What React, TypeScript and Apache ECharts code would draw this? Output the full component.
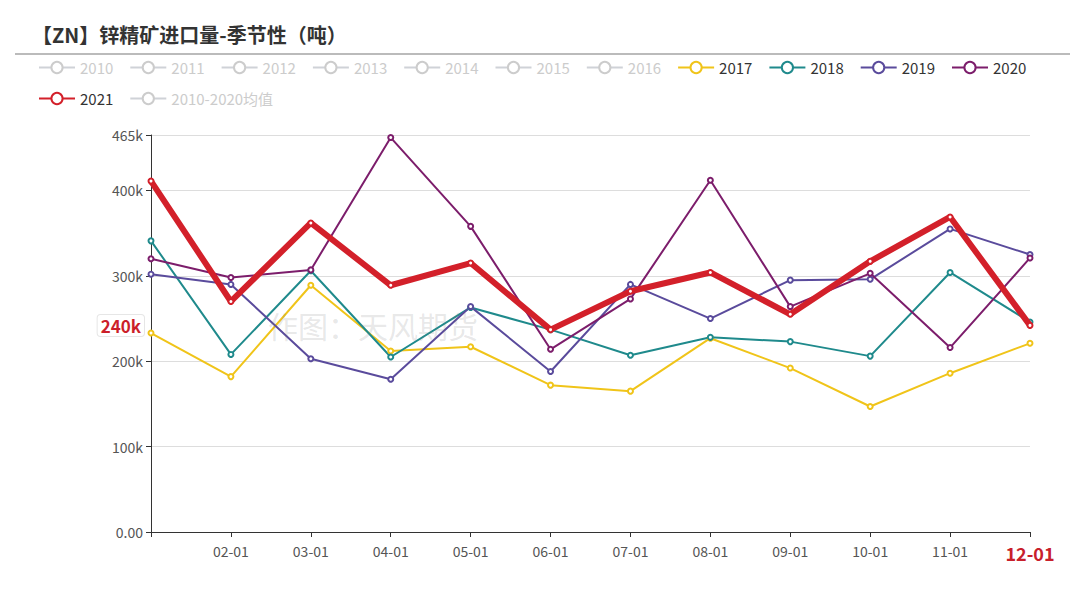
import React, { useEffect, useRef } from "react";
import * as echarts from "echarts";

const TITLE = "【ZN】锌精矿进口量-季节性（吨）";
const WATERMARK = "作图：天风期货";
const MONTHS = ["01-01", "02-01", "03-01", "04-01", "05-01", "06-01", "07-01", "08-01", "09-01", "10-01", "11-01", "12-01"];
const HIDDEN_SERIES = ["2010", "2011", "2012", "2013", "2014", "2015", "2016"];
const MEAN_NAME = "2010-2020均值";

const Y2017 = [233000, 182000, 289000, 212000, 217000, 172000, 165000, 227000, 192000, 147000, 186000, 221000];
const Y2018 = [341000, 208000, 306000, 205000, 263000, 237000, 207000, 228000, 223000, 206000, 304000, 246000];
const Y2019 = [302000, 290000, 203000, 179000, 264000, 188000, 290000, 250000, 295000, 296000, 355000, 325000];
const Y2020 = [320000, 298000, 307000, 462000, 358000, 214000, 273000, 412000, 264000, 303000, 216000, 321000];
const Y2021 = [411000, 270000, 362000, 289000, 315000, 237000, 282000, 304000, 255000, 317000, 369000, 242000];

const Y_MAX = 465000;
const Y_INTERVAL = 100000;

const FONT = "'Microsoft YaHei', 'Noto Sans CJK SC', 'Noto Sans', sans-serif";

const COLORS: Record<string, string> = {
  "2017": "#f0c419",
  "2018": "#1f8a8c",
  "2019": "#5a4b9c",
  "2020": "#7c1d6b",
  "2021": "#d3202a",
};

export default function App() {
  const ref = useRef<HTMLDivElement>(null);

  useEffect(() => {
    if (!ref.current) return;
    const chart = echarts.init(ref.current, undefined, { renderer: "svg" });

    const visible: [string, number[]][] = [
      ["2017", Y2017],
      ["2018", Y2018],
      ["2019", Y2019],
      ["2020", Y2020],
      ["2021", Y2021],
    ];

    const selected: Record<string, boolean> = {};
    HIDDEN_SERIES.forEach((n) => (selected[n] = false));
    selected[MEAN_NAME] = false;

    const hiddenSeries = [...HIDDEN_SERIES, MEAN_NAME].map((n) => ({
      name: n,
      type: "line",
      data: [] as number[],
      symbol: "emptyCircle",
      itemStyle: { color: "#bbb" },
    }));

    const last2021 = Y2021[Y2021.length - 1];

    const visibleSeries = visible.map(([name, data]) => {
      const is21 = name === "2021";
      const s: any = {
        name,
        type: "line",
        data,
        symbol: "emptyCircle",
        symbolSize: 5,
        z: is21 ? 5 : 2,
        lineStyle: { width: is21 ? 6 : 2, color: COLORS[name] },
        itemStyle: { color: COLORS[name], borderColor: is21 ? "#f0a0b0" : COLORS[name], borderWidth: 1 },
        emphasis: { disabled: true },
      };
      if (is21) {
        s.markLine = {
          silent: true,
          symbol: "none",
          lineStyle: { color: "rgba(0,0,0,0)", width: 0, type: "solid" },
          data: [{ yAxis: last2021 }],
          label: {
            show: true,
            position: "start",
            distance: 7,
            formatter: (p: any) => Math.round(p.value / 10000) * 10 + "k",
            color: "#cc1f2a",
            fontWeight: "bold",
            fontSize: 17,
            fontFamily: FONT,
            backgroundColor: "#fff",
            borderColor: "#e6e6e6",
            borderWidth: 1,
            borderRadius: 3,
            padding: [2, 3],
          },
        };
      }
      return s;
    });

    chart.setOption({
      animation: false,
      backgroundColor: "#fff",
      title: {
        text: TITLE,
        left: 27,
        top: 19,
        textStyle: { fontFamily: FONT, fontSize: 20, fontWeight: "bold", color: "#333" },
      },
      legend: {
        left: 33,
        top: 55,
        width: 1040,
        itemWidth: 36,
        itemHeight: 14,
        itemGap: 16,
        selected,
        inactiveColor: "#ccc",
        textStyle: { fontFamily: FONT, fontSize: 15, color: "#333" },
        data: [...HIDDEN_SERIES, "2017", "2018", "2019", "2020", "2021", MEAN_NAME],
      },
      grid: { left: 151, right: 50, top: 135, bottom: 83 },
      xAxis: {
        type: "category",
        data: MONTHS,
        boundaryGap: false,
        axisLine: { lineStyle: { color: "#333", width: 1 } },
        axisTick: { show: true, alignWithLabel: true, length: 5, lineStyle: { color: "#333" } },
        axisLabel: {
          interval: 0,
          margin: 12,
          color: "#555",
          fontSize: 14,
          fontFamily: FONT,
          formatter: (v: string, i: number) =>
            i === 0 ? "" : i === MONTHS.length - 1 ? "{hl|" + v + "}" : v,
          rich: {
            hl: { color: "#c8202b", fontWeight: "bold", fontSize: 18, fontFamily: FONT },
          },
        },
        splitLine: { show: false },
      },
      yAxis: {
        type: "value",
        min: 0,
        max: Y_MAX,
        interval: Y_INTERVAL,
        axisLine: { show: true, lineStyle: { color: "#333" } },
        axisTick: { show: true, length: 5, lineStyle: { color: "#333" } },
        axisLabel: {
          color: "#555",
          fontSize: 14,
          fontFamily: FONT,
          margin: 8,
          formatter: (v: number) => (v === 0 ? "0.00" : v / 1000 + "k"),
        },
        splitLine: { lineStyle: { color: "#ddd", width: 1 } },
      },
      graphic: [
        {
          type: "line",
          shape: { x1: 15, y1: 54, x2: 1070, y2: 54 },
          style: { stroke: "#bbb", lineWidth: 2 },
          silent: true,
        },
        {
          type: "text",
          left: 268,
          top: 310,
          silent: true,
          z: 10,
          style: {
            text: WATERMARK,
            fontSize: 30,
            fontFamily: FONT,
            fill: "rgba(120,120,120,0.18)",
          },
        },
      ],
      series: [...hiddenSeries, ...visibleSeries],
    });

    return () => chart.dispose();
  }, []);

  return (
    <div
      ref={ref}
      style={{ position: "fixed", left: 0, top: 0, width: 1080, height: 615, background: "#fff" }}
    />
  );
}
